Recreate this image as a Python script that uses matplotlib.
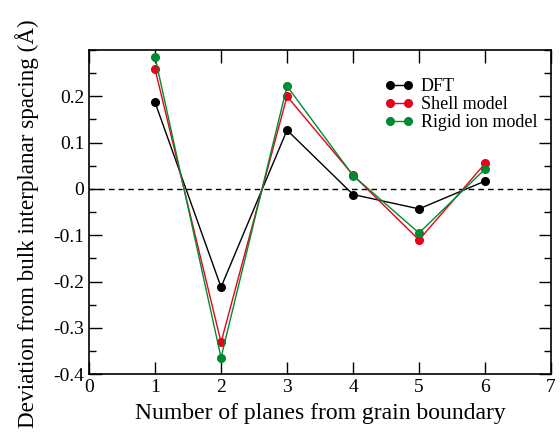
import numpy as np
import matplotlib
matplotlib.use('Agg')
import matplotlib.pyplot as plt
from matplotlib.ticker import MultipleLocator

plt.rcParams['font.family'] = ['Liberation Serif', 'DejaVu Serif']

planes = [1, 2, 3, 4, 5, 6]
dft = [0.187, -0.212, 0.127, -0.012, -0.043, 0.017]
shell = [0.259, -0.331, 0.200, 0.030, -0.110, 0.055]
rigid = [0.285, -0.364, 0.222, 0.029, -0.095, 0.043]

fig = plt.figure(figsize=(5.6, 4.33), dpi=100)
ax = fig.add_axes([0.159, 0.1356, 0.825, 0.749])

ax.axhline(0, color='black', lw=1, ls=(0, (4, 3)), zorder=1)
ax.plot(planes, dft, '-o', color='black', lw=1, ms=5.5, label='DFT')
ax.plot(planes, shell, '-o', color='#e8001c', lw=1, ms=5.5, label='Shell model')
ax.plot(planes, rigid, '-o', color='#008a30', lw=1, ms=5.5, label='Rigid ion model')

ax.set_xlim(0, 7)
ax.set_ylim(-0.4, 0.3)
ax.xaxis.set_major_locator(MultipleLocator(1))
ax.yaxis.set_minor_locator(MultipleLocator(0.05))
ax.set_yticks([-0.4, -0.3, -0.2, -0.1, 0, 0.1, 0.2])
ax.set_yticklabels(['-0.4', '-0.3', '-0.2', '-0.1', '0', '0.1', '0.2'])
ax.tick_params(which='both', direction='in', top=True, right=True, labelsize=14)
ax.tick_params(which='major', length=9, width=1)
ax.tick_params(which='minor', length=5, width=1)
for s in ax.spines.values():
    s.set_linewidth(1.2)

ax.set_xlabel('Number of planes from grain boundary', fontsize=17, labelpad=5)
ax.set_ylabel('Deviation from bulk interplanar spacing (Å)', fontsize=16.7)
ax.yaxis.set_label_coords(-0.108, 0.465)

ax.legend(loc='upper left', bbox_to_anchor=(0.62, 0.94), frameon=False, fontsize=13,
          numpoints=2, handlelength=1.6, handletextpad=0.4, labelspacing=0.05, borderpad=0)

fig.savefig('out.png', dpi=100)
